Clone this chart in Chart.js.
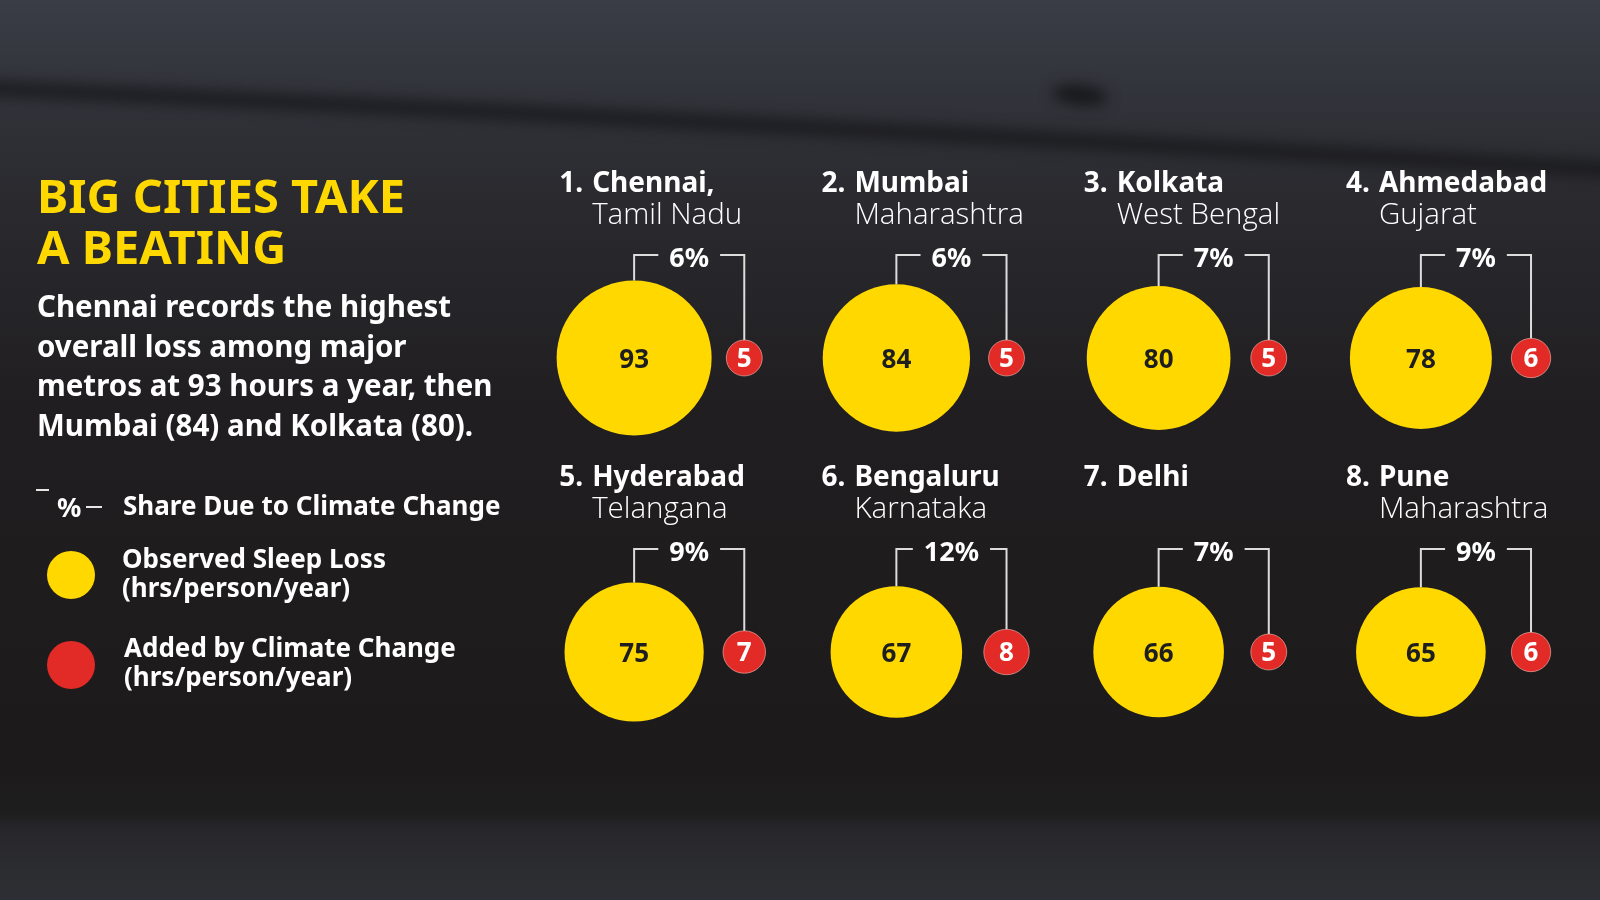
<!DOCTYPE html>
<html>
<head>
<meta charset="utf-8">
<title>Big cities take a beating</title>
<script src="https://cdn.jsdelivr.net/npm/chart.js@4/dist/chart.umd.min.js"></script>
<style>
  html, body { margin: 0; padding: 0; background: #1e1c1d; }
  #wrap { width: 1600px; height: 900px; }
</style>
</head>
<body>
<div id="wrap"><canvas id="sleepChart" width="1600" height="900"></canvas></div>
<script>
const cities = ["Chennai,", "Mumbai", "Kolkata", "Ahmedabad", "Hyderabad", "Bengaluru", "Delhi", "Pune"];
const states = ["Tamil Nadu", "Maharashtra", "West Bengal", "Gujarat", "Telangana", "Karnataka", "", "Maharashtra"];
const observedLoss = [93, 84, 80, 78, 75, 67, 66, 65]; // hrs/person/year
const climateAdded = [5, 5, 5, 6, 7, 8, 5, 6];         // hrs/person/year
const climateShare = [6, 6, 7, 7, 9, 12, 7, 9];        // %

const titleLines = ["BIG CITIES TAKE", "A BEATING"];
const introLines = [
  "Chennai records the highest",
  "overall loss among major",
  "metros at 93 hours a year, then",
  "Mumbai (84) and Kolkata (80)."
];

const YELLOW = "#ffd800";
const RED = "#e22b26";
const FAMILY = "'Noto Sans', 'Open Sans', sans-serif";
const LIGHT_FAMILY = "'Open Sans', 'Noto Sans', sans-serif";
const PER_ROW = 4;
const RED_SHIFT = 0.42;        // red dot sits right of its yellow circle (in column units)
const R_PER_SQRT = 77.5 / Math.sqrt(93); // circle area proportional to hours

function setFont(ctx, weight, size, family) {
  ctx.font = weight + " " + size + "px " + (family || FAMILY);
}

function bubbleRadius(c) {
  return c.raw ? R_PER_SQRT * Math.sqrt(c.raw.v) : 0;
}

const backdrop = {
  id: "backdrop",
  beforeDraw(chart) {
    const ctx = chart.ctx;
    const w = chart.width, h = chart.height;
    ctx.save();
    const g = ctx.createLinearGradient(0, 0, 0, h);
    g.addColorStop(0, "#3a3d45");
    g.addColorStop(0.1, "#32343b");
    g.addColorStop(0.22, "#2a2a2f");
    g.addColorStop(0.45, "#201e20");
    g.addColorStop(0.85, "#1c1a1a");
    g.addColorStop(0.905, "#1f1e1f");
    g.addColorStop(0.925, "#28282c");
    g.addColorStop(1, "#2e2f34");
    ctx.fillStyle = g;
    ctx.fillRect(0, 0, w, h);
    // dark streak across the top
    ctx.filter = "blur(7px)";
    ctx.strokeStyle = "rgba(22,22,26,0.75)";
    ctx.lineWidth = 16;
    ctx.beginPath();
    ctx.moveTo(-20, 88);
    ctx.quadraticCurveTo(700, 120, 1620, 170);
    ctx.stroke();
    ctx.fillStyle = "rgba(18,18,20,0.8)";
    ctx.beginPath();
    ctx.ellipse(1080, 95, 28, 10, 0.1, 0, Math.PI * 2);
    ctx.fill();
    ctx.restore();
  }
};

const annotations = {
  id: "annotations",
  afterDatasetsDraw(chart) {
    const ctx = chart.ctx;
    const big = chart.getDatasetMeta(0).data;
    const small = chart.getDatasetMeta(1).data;
    ctx.save();
    ctx.textBaseline = "alphabetic";

    // headline + intro
    ctx.fillStyle = YELLOW;
    setFont(ctx, "bold", 47);
    titleLines.forEach((t, i) => ctx.fillText(t, 37, 213 + i * 51));
    ctx.fillStyle = "#ffffff";
    setFont(ctx, "bold", 29.5);
    introLines.forEach((t, i) => ctx.fillText(t, 37, 317 + i * 39.7));

    // key
    ctx.strokeStyle = "#e6e6e6";
    ctx.lineWidth = 2;
    ctx.beginPath();
    ctx.moveTo(36, 490); ctx.lineTo(49, 490);
    ctx.moveTo(86, 507); ctx.lineTo(102, 507);
    ctx.stroke();
    setFont(ctx, "bold", 27);
    ctx.fillText("%", 57, 517);
    setFont(ctx, "bold", 26);
    ctx.fillText("Share Due to Climate Change", 123, 515);
    ctx.fillText("Observed Sleep Loss", 122, 568);
    ctx.fillText("(hrs/person/year)", 122, 597);
    ctx.fillText("Added by Climate Change", 124, 657);
    ctx.fillText("(hrs/person/year)", 124, 686);
    ctx.fillStyle = YELLOW;
    ctx.beginPath(); ctx.arc(71, 575, 24, 0, Math.PI * 2); ctx.fill();
    ctx.fillStyle = RED;
    ctx.beginPath(); ctx.arc(71, 665, 24, 0, Math.PI * 2); ctx.fill();

    // per-city labels and brackets
    big.forEach((e, i) => {
      const f = small[i];
      const r = e.options.radius, rr = f.options.radius;

      ctx.fillStyle = "#ffffff";
      ctx.textAlign = "left";
      setFont(ctx, "bold", 28);
      ctx.fillText((i + 1) + ".", e.x - 75, e.y - 166);
      ctx.fillText(cities[i], e.x - 42, e.y - 166);
      setFont(ctx, "300", 29.5, LIGHT_FAMILY);
      ctx.fillText(states[i], e.x - 42, e.y - 134);

      const top = e.y - 103;
      const mid = (e.x + f.x) / 2;
      const label = climateShare[i] + "%";
      setFont(ctx, "bold", 27);
      const tw = ctx.measureText(label).width;
      ctx.textAlign = "center";
      ctx.fillText(label, mid, top + 12);
      ctx.strokeStyle = "#dcdcdc";
      ctx.lineWidth = 2;
      ctx.beginPath();
      ctx.moveTo(e.x, e.y - r);
      ctx.lineTo(e.x, top);
      ctx.lineTo(mid - tw / 2 - 11, top);
      ctx.moveTo(mid + tw / 2 + 11, top);
      ctx.lineTo(f.x, top);
      ctx.lineTo(f.x, f.y - rr);
      ctx.stroke();

      setFont(ctx, "bold", 26);
      ctx.fillStyle = "#1e1e1e";
      ctx.fillText(String(observedLoss[i]), e.x, e.y + 10);
      ctx.fillStyle = "#ffffff";
      ctx.fillText(String(climateAdded[i]), f.x, f.y + 9);
    });
    ctx.restore();
  }
};

const ctx = document.getElementById("sleepChart").getContext("2d");
const sleepChart = new Chart(ctx, {
  type: "bubble",
  data: {
    datasets: [
      {
        label: "Observed Sleep Loss (hrs/person/year)",
        data: observedLoss.map((v, i) => ({ x: i % PER_ROW, y: Math.floor(i / PER_ROW), v })),
        backgroundColor: YELLOW,
        borderWidth: 0,
        radius: bubbleRadius,
        hoverRadius: 0,
        clip: false
      },
      {
        label: "Added by Climate Change (hrs/person/year)",
        data: climateAdded.map((v, i) => ({ x: (i % PER_ROW) + RED_SHIFT, y: Math.floor(i / PER_ROW), v })),
        backgroundColor: RED,
        borderColor: "rgba(255,200,195,0.55)",
        borderWidth: 1,
        radius: bubbleRadius,
        hoverRadius: 0,
        clip: false
      }
    ]
  },
  options: {
    responsive: false,
    animation: false,
    events: [],
    layout: { autoPadding: false, padding: { left: 503, right: 48, top: 211, bottom: 101 } },
    plugins: { legend: { display: false }, tooltip: { enabled: false } },
    scales: {
      x: { type: "linear", min: -0.5, max: PER_ROW - 0.5, display: false },
      y: { type: "linear", min: -0.5, max: 1.5, reverse: true, display: false }
    }
  },
  plugins: [backdrop, annotations]
});
</script>
</body>
</html>
